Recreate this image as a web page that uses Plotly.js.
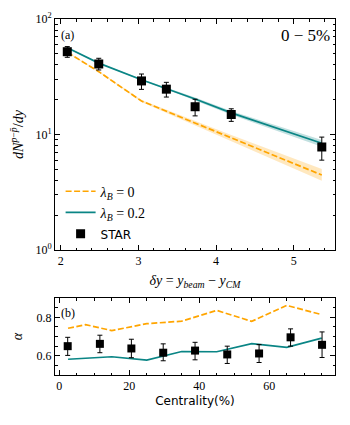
<!DOCTYPE html>
<html>
<head>
<meta charset="utf-8">
<script src="https://cdn.plot.ly/plotly-3.0.1.min.js"></script>
<style>
  html, body { margin: 0; padding: 0; background: #fff; }
  #plot { width: 350px; height: 425px; }
</style>
</head>
<body>
<div id="plot"></div>
<script>
// Panel (a): rapidity dependence of net-proton yield
const dyStar = [2.085, 2.49, 3.04, 3.36, 3.73, 4.195, 5.36];
const dnStar = [52.1, 40.8, 29.1, 24.7, 17.4, 14.9, 7.8];
const dnStarErrUp = [5.6, 4.9, 4.3, 3.6, 2.8, 1.8, 1.7];
const dnStarErrDn = [5.5, 4.6, 4.5, 3.6, 2.9, 1.9, 1.8];

const dnLam0 = [51.5, 35.0, 19.5, 15.9, 12.6, 9.35, 4.46];
const dnLam0Lo = [51.0, 34.6, 19.1, 15.4, 12.0, 8.8, 3.98];
const dnLam0Hi = [52.0, 35.4, 19.9, 16.4, 13.2, 9.9, 5.03];

const dnLam02 = [56.5, 41.5, 29.8, 25.1, 20.3, 15.4, 8.4];
const dnLam02Lo = [56.0, 41.1, 29.4, 24.6, 19.7, 14.8, 7.85];
const dnLam02Hi = [57.0, 41.9, 30.2, 25.6, 20.9, 16.0, 8.95];

// Panel (b): alpha vs centrality
const centStar = [2.4, 11.6, 20.6, 29.7, 38.8, 48.0, 57.1, 66.1, 75.1];
const alphaStar = [0.650, 0.662, 0.638, 0.616, 0.627, 0.607, 0.612, 0.696, 0.657];
const alphaErrUp = [0.046, 0.045, 0.048, 0.046, 0.043, 0.043, 0.046, 0.044, 0.067];
const alphaErrDn = [0.048, 0.046, 0.048, 0.042, 0.048, 0.047, 0.047, 0.046, 0.066];

const centModel = [2.5, 7.5, 15, 25, 35, 45, 55, 65, 75];
const alphaLam0 = [0.743, 0.762, 0.731, 0.767, 0.780, 0.836, 0.779, 0.862, 0.814];
const alphaLam02 = [0.582, 0.588, 0.595, 0.577, 0.622, 0.621, 0.663, 0.644, 0.692];

const ORANGE = '#ffa500';
const TEAL = '#0a8585';
const SERIF = 'Liberation Serif';
const SANS = 'DejaVu Sans';

const traces = [
    // orange band
    { x: dyStar, y: dnLam0Lo, mode: 'lines', line: { width: 0 }, showlegend: false, hoverinfo: 'skip' },
    { x: dyStar, y: dnLam0Hi, mode: 'lines', line: { width: 0 }, fill: 'tonexty',
      fillcolor: 'rgba(255,165,0,0.25)', showlegend: false, hoverinfo: 'skip' },
    // teal band
    { x: dyStar, y: dnLam02Lo, mode: 'lines', line: { width: 0 }, showlegend: false, hoverinfo: 'skip' },
    { x: dyStar, y: dnLam02Hi, mode: 'lines', line: { width: 0 }, fill: 'tonexty',
      fillcolor: 'rgba(10,133,133,0.25)', showlegend: false, hoverinfo: 'skip' },
    {
        x: dyStar, y: dnLam0, mode: 'lines', name: '<i>λ<sub>B</sub></i> = 0',
        line: { color: ORANGE, width: 1.7, dash: '6px,2.5px' }
    },
    {
        x: dyStar, y: dnLam02, mode: 'lines', name: '<i>λ<sub>B</sub></i> = 0.2',
        line: { color: TEAL, width: 1.7 }
    },
    {
        x: dyStar, y: dnStar, mode: 'markers',
        name: '<span style="font-family:DejaVu Sans;font-size:12px">STAR</span>',
        marker: { symbol: 'square', color: 'black', size: 9 },
        error_y: { type: 'data', array: dnStarErrUp, arrayminus: dnStarErrDn,
                   color: 'black', thickness: 1, width: 2.5 }
    },
    // bottom panel
    {
        x: centModel, y: alphaLam0, xaxis: 'x2', yaxis: 'y2', mode: 'lines', showlegend: false,
        line: { color: ORANGE, width: 1.7, dash: '6px,2.5px' }
    },
    {
        x: centModel, y: alphaLam02, xaxis: 'x2', yaxis: 'y2', mode: 'lines', showlegend: false,
        line: { color: TEAL, width: 1.7 }
    },
    {
        x: centStar, y: alphaStar, xaxis: 'x2', yaxis: 'y2', mode: 'markers', showlegend: false,
        marker: { symbol: 'square', color: 'black', size: 8 },
        error_y: { type: 'data', array: alphaErrUp, arrayminus: alphaErrDn,
                   color: 'black', thickness: 1, width: 2.5 }
    }
];

const axisCommon = {
    showline: true, linecolor: 'black', linewidth: 1, mirror: 'ticks',
    ticks: 'inside', ticklen: 5, tickwidth: 1, tickcolor: 'black',
    showgrid: false, zeroline: false,
    tickfont: { family: SERIF, size: 12, color: 'black' }
};

const layout = {
    width: 350,
    height: 425,
    margin: { l: 55, r: 15, t: 19, b: 50 },
    paper_bgcolor: 'white',
    plot_bgcolor: 'white',
    font: { family: SERIF, size: 12, color: 'black' },
    showlegend: true,
    legend: {
        x: 0.02, y: 0.56, xanchor: 'left', yanchor: 'top',
        bgcolor: 'rgba(0,0,0,0)',
        traceorder: 'normal',
        font: { family: SERIF, size: 14, color: 'black' },
        tracegroupgap: 0
    },
    xaxis: Object.assign({}, axisCommon, {
        domain: [0, 1], anchor: 'y',
        range: [1.927, 5.53],
        tickvals: [2, 3, 4, 5],
        minor: { ticks: 'inside', ticklen: 2.5, tickcolor: 'black', dtick: 0.2, tick0: 2 },
        title: { text: '<i>δy</i> = <i>y<sub>beam</sub></i> − <i>y<sub>CM</sub></i>',
                 font: { family: SERIF, size: 14, color: 'black' }, standoff: 7 }
    }),
    yaxis: Object.assign({}, axisCommon, {
        domain: [0.351, 1], anchor: 'x',
        type: 'log', range: [0, 2],
        tickvals: [1, 10, 100],
        ticktext: ['10<sup>0</sup>', '10<sup>1</sup>', '10<sup>2</sup>'],
        minor: { ticks: 'inside', ticklen: 2.5, tickcolor: 'black', dtick: 'D1' },
        title: { text: '<i>dN</i><sup><i>p</i>−<i>p̄</i></sup>/<i>dy</i>',
                 font: { family: SERIF, size: 14, color: 'black' }, standoff: 8 }
    }),
    xaxis2: Object.assign({}, axisCommon, {
        domain: [0, 1], anchor: 'y2',
        range: [-1.23, 78.8],
        tickvals: [0, 20, 40, 60],
        minor: { ticks: 'inside', ticklen: 2.5, tickcolor: 'black', dtick: 5, tick0: 0 },
        title: { text: 'Centrality(%)', font: { family: SANS, size: 12, color: 'black' }, standoff: 4 }
    }),
    yaxis2: Object.assign({}, axisCommon, {
        domain: [0, 0.216], anchor: 'x2',
        range: [0.5, 0.9],
        tickvals: [0.6, 0.8],
        ticktext: ['0.6', '0.8'],
        minor: { ticks: 'inside', ticklen: 2.5, tickcolor: 'black', dtick: 0.05, tick0: 0.5 },
        title: { text: '<i>α</i>', font: { family: SERIF, size: 14, color: 'black' }, standoff: 10 }
    }),
    annotations: [
        { text: '(a)', xref: 'paper', yref: 'paper', x: 0.015, y: 0.955, xanchor: 'left', yanchor: 'middle',
          showarrow: false, font: { family: SERIF, size: 12, color: 'black' } },
        { text: '0 − 5%', xref: 'paper', yref: 'paper', x: 0.99, y: 0.955, xanchor: 'right', yanchor: 'middle',
          showarrow: false, font: { family: SERIF, size: 17, color: 'black' } },
        { text: '(b)', xref: 'paper', yref: 'paper', x: 0.015, y: 0.175, xanchor: 'left', yanchor: 'middle',
          showarrow: false, font: { family: SERIF, size: 12, color: 'black' } }
    ]
};

const config = { displayModeBar: false, responsive: false, staticPlot: true };

Plotly.newPlot('plot', traces, layout, config);
</script>
</body>
</html>
